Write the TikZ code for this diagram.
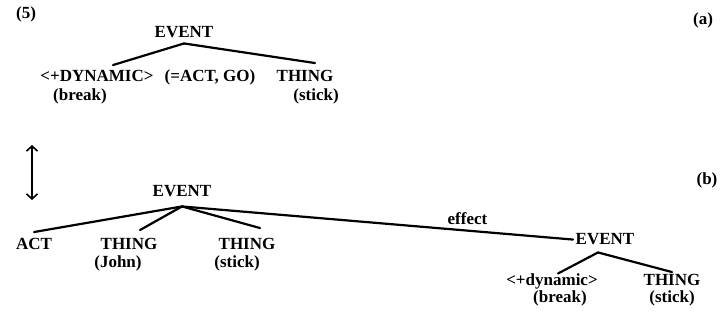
\documentclass[tikz,border=0pt]{standalone}
\usepackage{fontspec}
\setmainfont{Liberation Serif}
\usetikzlibrary{arrows.meta}
\tikzset{cat/.style={font=\bfseries\fontsize{17}{19}\selectfont,inner sep=0.5pt,anchor=base},
    branch/.style={line width=2.2pt,line cap=round},
    swap/.style={line width=1.6pt,{Straight Barb[length=5pt,width=11pt]}-{Straight Barb[length=5pt,width=11pt]}}
}
\begin{document}
\begin{tikzpicture}[x=1pt,y=-1pt]
\useasboundingbox (0,0) rectangle (723,320);

\node (ex num) [cat] at (26,19) {(5)};
\node (lbl a) [cat] at (703,25) {(a)};
\node (lbl b) [cat] at (707,185) {(b)};

% (a)
\node (ev a) [cat] at (184,38) {EVENT};
\node (dyn a) [cat] at (97,82) {<+DYNAMIC>};
\node (actgo a) [cat] at (210,82) {(=ACT, GO)};
\node (thing a) [cat] at (305,82) {THING};
\node (break a) [cat] at (80,101) {(break)};
\node (stick a) [cat] at (316,101) {(stick)};

\draw [branch] ([yshift=-4.5pt]ev a.south) -- ([xshift=16pt,yshift=5pt]dyn a.north);
\draw [branch] ([yshift=-4.5pt]ev a.south) -- ([xshift=10pt,yshift=7pt]thing a.north);

\coordinate (arr top) at (32,145);
\coordinate (arr bot) at (32,200);
\draw [swap] (arr top) -- (arr bot);

% (b)
\node (ev b) [cat] at (182,197) {EVENT};
\coordinate (top b) at ([yshift=-8.5pt]ev b.south);
\node (act b) [cat] at (34,250) {ACT};
\node (thing b1) [cat] at (129,250) {THING};
\node (thing b2) [cat] at (247,250) {THING};
\node (john b) [cat] at (118,268) {(John)};
\node (stick b) [cat] at (237,268) {(stick)};

\node (ev c) [cat] at (605,245) {EVENT};
\coordinate (top c) at ([xshift=-7pt,yshift=-6.5pt]ev c.south);
\node (dyn c) [cat] at (552,286) {<+dynamic>};
\node (thing c) [cat] at (672,286) {THING};
\node (break c) [cat] at (560,303) {(break)};
\node (stick c) [cat] at (672,303) {(stick)};

\draw [branch] (top b) -- ([yshift=6pt]act b.north);
\draw [branch] (top b) -- ([xshift=11pt,yshift=8pt]thing b1.north);
\draw [branch] (top b) -- ([xshift=13pt,yshift=10pt]thing b2.north);
\draw [branch] (top b) -- node [cat,anchor=south,above=4pt,pos=0.73] (eff) {effect} ([xshift=-2pt]ev c.west);

\draw [branch] (top c) -- ([xshift=6pt]dyn c.north);
\draw [branch] (top c) -- ([yshift=2pt]thing c.north);

\end{tikzpicture}
\end{document}
